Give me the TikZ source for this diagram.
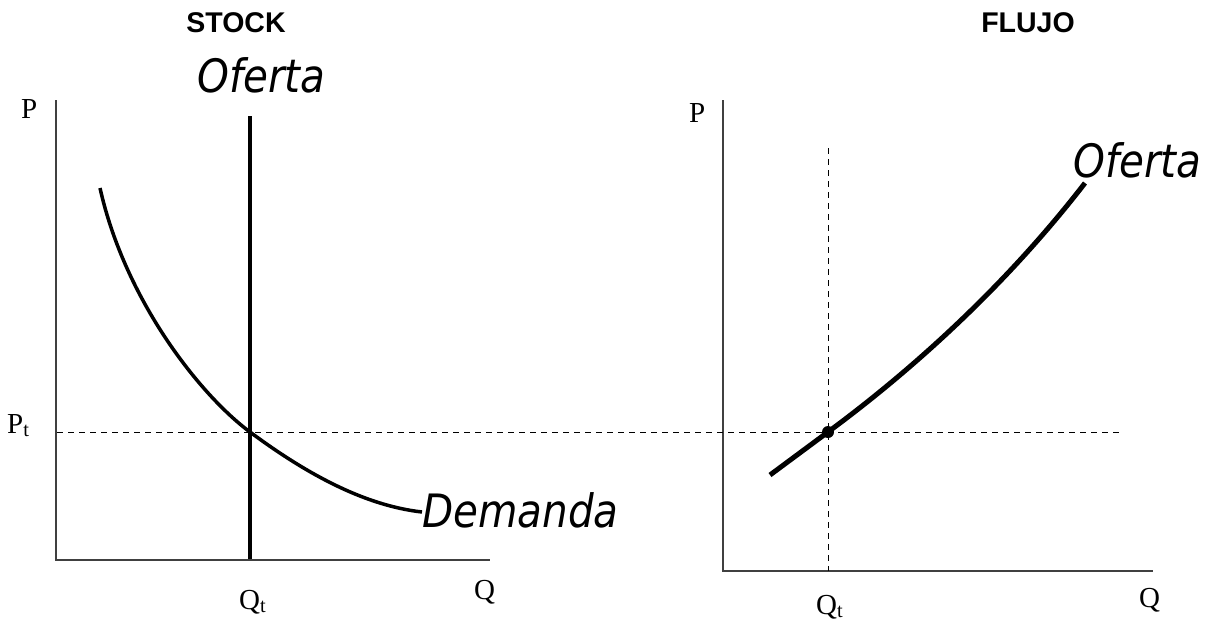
\documentclass[tikz,border=0pt]{standalone}
\usepackage{fontspec}
\setmainfont{Liberation Serif}
\newfontfamily\titlefont{Liberation Sans}
\newfontfamily\curvefont{DejaVu Sans}[FakeStretch=0.88]
\tikzset{
  axis/.style={line width=1.5pt, draw=black!75},
  guide/.style={line width=1pt, dash pattern=on 6pt off 5pt},
  lbl/.style={inner sep=0pt, anchor=base west, font=\fontsize{29}{31}\selectfont},
  curvelbl/.style={inner sep=0pt, anchor=base west, font=\curvefont\itshape\fontsize{46}{50}\selectfont},
  ttl/.style={inner sep=0pt, anchor=base, font=\titlefont\bfseries\fontsize{28.5}{30}\selectfont}
}
\begin{document}
\begin{tikzpicture}[x=1pt,y=-1pt]
\useasboundingbox (0,0) rectangle (1209,622);
% titles:
\node[ttl] (stock) at (236,32) {STOCK};
\node[ttl] (flujo) at (1028,32) {FLUJO};
% stock axes:
\coordinate (o1) at (56,560);
\draw[axis] (56,100)coordinate (p1top) -- (o1) -- (490,560)coordinate (q1end)
;;
\node[lbl] (p1) at (21,118) {P};
\node[lbl] (q1) at (474,599) {Q};
\node[lbl] (pt) at (7,433) {P\textsubscript{t}};
\node[lbl] (qt1) at (239,609) {Q\textsubscript{t}};
% flujo axes:
\coordinate (o2) at (723,571);
\draw[axis] (723,100)coordinate (p2top) -- (o2) -- (1153,571)coordinate (q2end)
;;
\node[lbl] (p2) at (689,122) {P};
\node[lbl] (q2) at (1139,607) {Q};
\node[lbl] (qt2) at (816,614) {Q\textsubscript{t}};
% equilibrium guides:
\coordinate (e1) at (250,432);
\coordinate (e2) at (828,432);
\draw[guide] (57,432) -- (1122,432)
;;\draw[guide] (828,148) -- (828,571)
;;
% stock curves:
\draw[line width=4pt] (250,116) -- (250,559)
;;\draw[line width=3.5pt] (100,188) .. controls (125,300) and (200,395) .. (e1)
  .. controls (300,469) and (360,505) .. (422,512)
;;
\node[curvelbl] (of1) at (197,92) {Oferta};
\node[curvelbl] (dem) at (422,527) {Demanda};
% flujo curve:
\draw[line width=5pt] (770,475) -- (e2) .. controls (920,364) and (1010,280) .. (1085,183)
;;\fill (e2) circle (6pt);
\node[curvelbl] (of2) at (1073,177) {Oferta};
\end{tikzpicture}
\end{document}
